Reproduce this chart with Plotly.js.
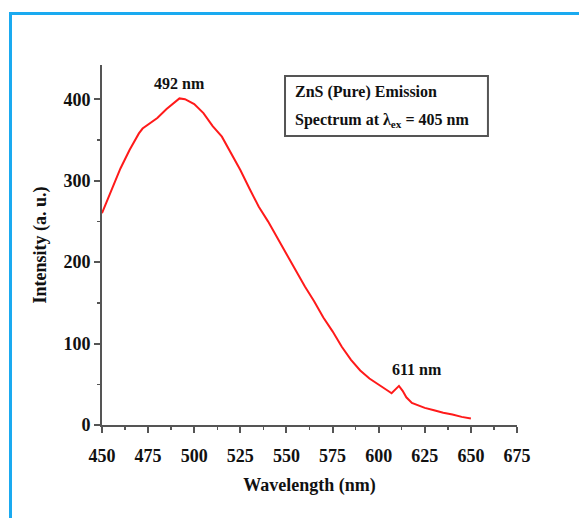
<!DOCTYPE html>
<html>
<head>
<meta charset="utf-8">
<script src="https://cdn.plot.ly/plotly-3.0.1.min.js"></script>
<style>
  html, body { margin: 0; padding: 0; background: #fff; }
  #wrap { position: relative; width: 579px; height: 518px; overflow: hidden; }
  #frame { position: absolute; left: 9px; top: 12px; width: 700px; height: 700px;
           border-left: 3px solid #1aaaf0; border-top: 3px solid #1aaaf0; pointer-events: none; z-index: 5; }
  #chart { position: absolute; left: 0; top: 0; width: 579px; height: 518px; }
</style>
</head>
<body>
<div id="wrap">
  <div id="chart"></div>
  <div id="frame"></div>
</div>
<script>
// Emission spectrum of ZnS (pure), excitation 405 nm
const wavelength = [450, 455, 460, 465, 470, 472, 475, 480, 485, 490, 492, 495, 500, 505, 510, 515, 520, 525, 530, 535, 540, 545, 550, 555, 560, 565, 570, 575, 580, 585, 590, 595, 600, 605, 607, 609, 611, 613, 615, 618, 620, 625, 630, 635, 640, 645, 650];
const intensity  = [260, 288, 315, 338, 358, 364, 369, 377, 388, 398, 401, 400, 394, 383, 367, 354, 333, 313, 290, 268, 250, 230, 210, 190, 170, 152, 132, 115, 96, 80, 67, 57, 50, 42, 39, 44, 48, 42, 34, 27, 25, 21, 18, 15, 13, 10, 8];

const xTicks = [450, 475, 500, 525, 550, 575, 600, 625, 650, 675];
const yTicks = [0, 100, 200, 300, 400];

const peakLabels = ["492 nm", "611 nm"];
const peakLabelX = [492, 621];
const peakLabelY = [419, 68];

const boxLines = ["ZnS (Pure) Emission", "Spectrum at λ<sub>ex</sub> = 405 nm"];

const serif = "Liberation Serif, Times New Roman, serif";
const fontDark = "#111";

const trace = {
  x: wavelength, y: intensity, type: "scatter", mode: "lines",
  line: { color: "#ff1a1a", width: 2 }, hoverinfo: "skip"
};

const annotations = [
  { x: peakLabelX[0], y: peakLabelY[0], xref: "x", yref: "y", text: peakLabels[0], showarrow: false,
    font: { family: serif, size: 16, color: fontDark, weight: "bold" } },
  { x: peakLabelX[1], y: peakLabelY[1], xref: "x", yref: "y", text: peakLabels[1], showarrow: false,
    font: { family: serif, size: 16, color: fontDark, weight: "bold" } },
  { x: 0.46, y: 0.9258, xref: "paper", yref: "paper", xanchor: "left", yanchor: "middle", text: boxLines[0], showarrow: false,
    font: { family: serif, size: 16, color: fontDark, weight: "bold" } },
  { x: 0.46, y: 0.847, xref: "paper", yref: "paper", xanchor: "left", yanchor: "middle", text: boxLines[1], showarrow: false,
    font: { family: serif, size: 16, color: fontDark, weight: "bold" } }
];

const shapes = [
  { type: "rect", xref: "paper", yref: "paper", x0: 0.441, x1: 0.930, y0: 0.8025, y1: 0.9694,
    line: { color: "#555", width: 2 }, fillcolor: "rgba(0,0,0,0)" }
];

const layout = {
  width: 579, height: 518,
  margin: { l: 102, r: 62, t: 65, b: 93, pad: 0 },
  paper_bgcolor: "#fff", plot_bgcolor: "#fff",
  showlegend: false,
  font: { family: serif, color: fontDark },
  xaxis: {
    range: [450, 675], tickvals: xTicks, ticktext: xTicks.map(String),
    showgrid: false, zeroline: false, showline: true, linecolor: "#555", linewidth: 2,
    ticks: "outside", ticklen: 6, tickwidth: 2, tickcolor: "#555", ticklabelstandoff: 7,
    minor: { ticks: "outside", ticklen: 3, tickwidth: 1.5, tickcolor: "#555", dtick: 12.5, tick0: 450, showgrid: false },
    tickfont: { family: serif, size: 18, color: fontDark, weight: "bold" },
    title: { text: "Wavelength (nm)", font: { family: serif, size: 18, color: fontDark, weight: "bold" }, standoff: 14 }
  },
  yaxis: {
    range: [0, 442], tickvals: yTicks, ticktext: yTicks.map(String),
    showgrid: false, zeroline: false, showline: true, linecolor: "#555", linewidth: 2,
    ticks: "outside", ticklen: 6, tickwidth: 2, tickcolor: "#555",
    minor: { ticks: "outside", ticklen: 3, tickwidth: 1.5, tickcolor: "#555", dtick: 50, tick0: 0, showgrid: false },
    tickfont: { family: serif, size: 18, color: fontDark, weight: "bold" },
    title: { text: "Intensity (a. u.)", font: { family: serif, size: 18, color: fontDark, weight: "bold" }, standoff: 12 }
  },
  annotations: annotations,
  shapes: shapes
};

Plotly.newPlot("chart", [trace], layout, { staticPlot: true, displayModeBar: false });
</script>
</body>
</html>
